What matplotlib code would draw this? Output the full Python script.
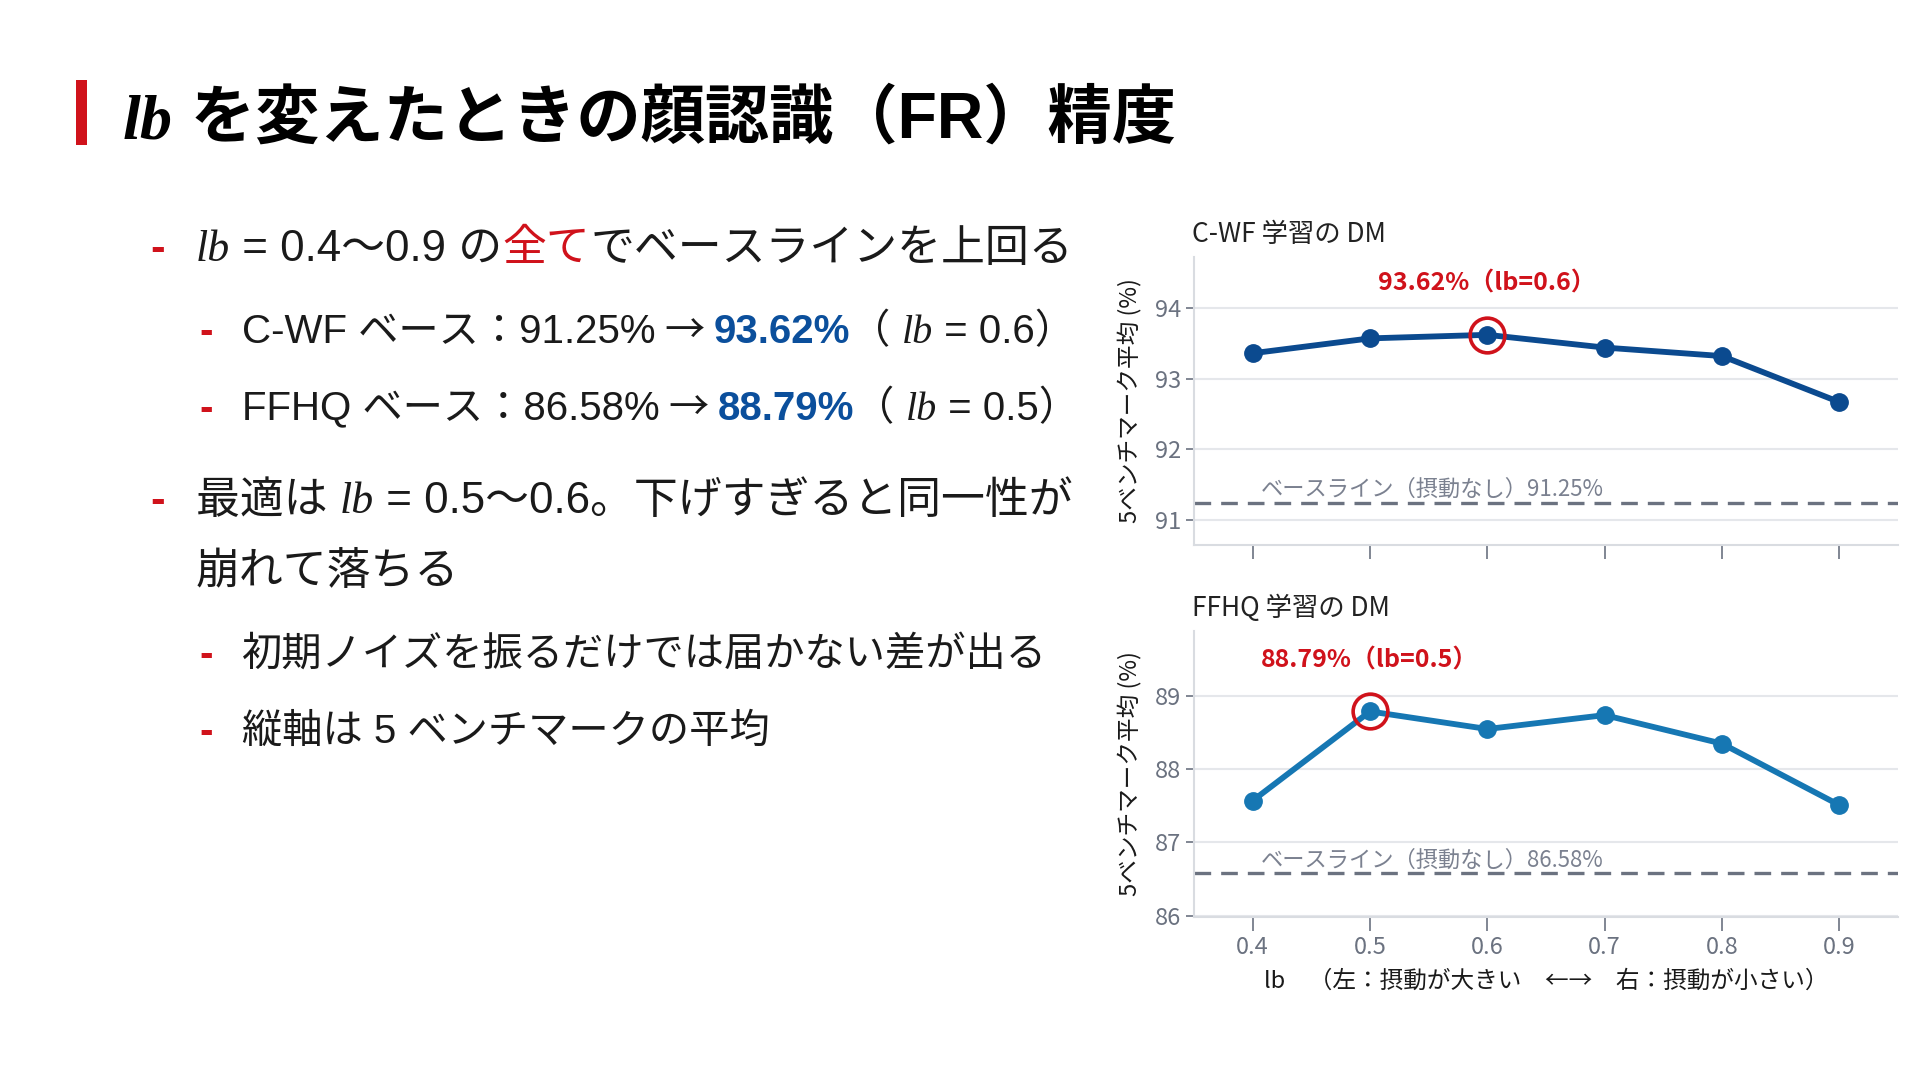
import math
import matplotlib
matplotlib.use("Agg")
import matplotlib.pyplot as plt

# ---- data ----
lb_values = [0.4, 0.5, 0.6, 0.7, 0.8, 0.9]
cwf_acc = [93.36, 93.57, 93.62, 93.44, 93.32, 92.67]
ffhq_acc = [87.57, 88.79, 88.55, 88.74, 88.35, 87.51]
cwf_base = 91.25
ffhq_base = 86.58
panel_titles = ["C-WF 学習の DM", "FFHQ 学習の DM"]

W, H = 1920, 1082
RED = "#d0121b"
BLUE_TXT = "#0b4f9c"
INK = "#1a1a1a"
GRAY = "#6b7280"

plt.rcParams["font.family"] = ["Noto Sans CJK JP", "DejaVu Sans"]

fig = plt.figure(figsize=(W / 100, H / 100), dpi=100)
fig.patch.set_facecolor("white")
renderer = fig.canvas.get_renderer()

BODY = ["Liberation Sans", "Noto Sans CJK JP"]
SERIF = ["Liberation Serif", "DejaVu Serif"]
CJK = ["Noto Sans CJK JP"]


def draw_segments(x, y, segments, size):
    # x, y in pixels from top-left, y is the text baseline
    for seg in segments:
        text = seg[0]
        opts = dict(family=BODY, color=INK)
        opts.update(seg[1] if len(seg) > 1 else {})
        t = fig.text(x / W, 1 - y / H, text, fontsize=size, va="baseline",
                     ha="left", **opts)
        x += t.get_window_extent(renderer).width
    return x


LB = ("lb", {"family": SERIF, "style": "italic"})
ARROW = (" → ", {"family": CJK})

# ---- title ----
fig.add_artist(plt.Rectangle((76 / W, 1 - 145 / H), 11 / W, 65 / H,
                             transform=fig.transFigure, color=RED, lw=0))
draw_segments(123, 138, [
    ("lb", {"family": SERIF, "style": "italic", "weight": "bold", "color": "black"}),
    (" を変えたときの顔認識（FR）精度", {"weight": "bold", "color": "black"}),
], 46.3)

# ---- bullets ----
def dash(x, y, size):
    fig.text(x / W, 1 - y / H, "-", fontsize=size, va="baseline", ha="left",
             family=BODY, color=RED, weight="bold")


S1, S2 = 31.6, 29

dash(150, 261, S1)
draw_segments(196, 261, [
    LB, (" = 0.4〜0.9 の",), ("全て", {"color": RED}), ("でベースラインを上回る",),
], S1)

dash(199, 343, S2)
draw_segments(242, 343, [
    ("C-WF ベース：91.25%",), ARROW, ("93.62%", {"color": BLUE_TXT, "weight": "bold"}),
    ("（ ",), LB, (" = 0.6）",),
], S2)

dash(199, 420, S2)
draw_segments(242, 420, [
    ("FFHQ ベース：86.58%",), ARROW, ("88.79%", {"color": BLUE_TXT, "weight": "bold"}),
    ("（ ",), LB, (" = 0.5）",),
], S2)

dash(150, 513, S1)
draw_segments(196, 513, [
    ("最適は ",), LB, (" = 0.5〜0.6。下げすぎると同一性が",),
], S1)
draw_segments(196, 584, [("崩れて落ちる",)], S1)

dash(199, 666, S2)
draw_segments(242, 666, [("初期ノイズを振るだけでは届かない差が出る",)], S2)
dash(199, 743, S2)
draw_segments(242, 743, [("縦軸は 5 ベンチマークの平均",)], S2)

# ---- charts ----
AX_LEFT, AX_W = 1194, 704
panels = [
    (cwf_acc, cwf_base, "#0b4a8f", 257, 545, panel_titles[0], 234),
    (ffhq_acc, ffhq_base, "#1677b3", 631, 917, panel_titles[1], 608),
]

for i, (acc, base, col, top, bottom, title, ty) in enumerate(panels):
    ax = fig.add_axes([AX_LEFT / W, 1 - bottom / H, AX_W / W, (bottom - top) / H])
    best_i = max(range(len(acc)), key=lambda k: acc[k])
    best_x, best_y = lb_values[best_i], acc[best_i]

    ax.plot(lb_values, acc, color=col, lw=4.2, marker="o", ms=12.5, zorder=3)
    ax.plot([best_x], [best_y], marker="o", ms=25, mfc="none", mec=RED,
            mew=2.6, ls="none", zorder=4)
    ax.axhline(base, color=GRAY, lw=2.4, ls=(0, (5, 3)), zorder=2)
    ax.annotate(f"ベースライン（摂動なし）{base:.2f}%", xy=(0.407, base),
                xytext=(0, 1), textcoords="offset points", va="bottom",
                ha="left", fontsize=16, color="#7b8190")
    ax.annotate(f"{best_y:.2f}%（lb={best_x}）", xy=(best_x, best_y),
                xytext=(0, 37), textcoords="offset points", ha="center",
                va="center", fontsize=18, fontweight="bold", color=RED)

    lo, hi = base - 0.6, best_y + 1.1
    ax.set_xlim(0.35, 0.95)
    ax.set_ylim(lo, hi)
    ax.set_xticks(lb_values)
    ax.set_yticks(range(math.ceil(lo), math.floor(hi) + 1))
    ax.grid(axis="y", color="#e5e7eb", lw=1.5)
    ax.set_axisbelow(True)
    for s in ["top", "right"]:
        ax.spines[s].set_visible(False)
    for s in ["left", "bottom"]:
        ax.spines[s].set_color("#d9dce1")
        ax.spines[s].set_linewidth(1.5)
    ax.tick_params(colors=GRAY, labelsize=17, length=6, width=1.2)
    ax.tick_params(axis="x", length=10)
    ax.set_ylabel("5ベンチマーク平均 (%)", fontsize=17, color=INK, labelpad=9)
    if i == 0:
        ax.tick_params(axis="x", labelbottom=False)
    else:
        ax.set_xlabel("lb　（左：摂動が大きい　←→　右：摂動が小さい）",
                      fontsize=17, color=INK, labelpad=8)
    fig.text((AX_LEFT - 2) / W, 1 - ty / H, title, fontsize=19, color="#222222",
             va="center", ha="left")

fig.savefig("out.png", dpi=100, facecolor="white")
